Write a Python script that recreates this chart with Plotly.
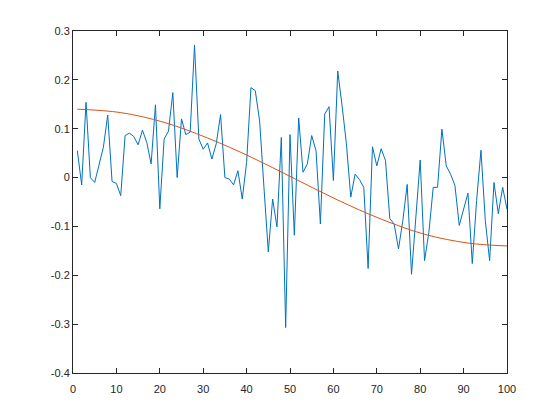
import plotly.graph_objects as go

x_noisy = list(range(1, 101))
y_noisy = [
    0.055, -0.015, 0.154, 0.0, -0.010, 0.025, 0.062, 0.128, -0.008, -0.012,
    -0.037, 0.086, 0.091, 0.084, 0.067, 0.097, 0.072, 0.028, 0.149, -0.064,
    0.079, 0.095, 0.174, 0.0, 0.120, 0.088, 0.093, 0.271, 0.079, 0.058,
    0.071, 0.038, 0.069, 0.129, 0.0, -0.003, -0.015, 0.014, -0.044, 0.031,
    0.184, 0.178, 0.116, -0.020, -0.152, -0.044, -0.101, 0.082, -0.307, 0.088,
    -0.118, 0.122, 0.011, 0.028, 0.086, 0.055, -0.095, 0.130, 0.145, -0.006,
    0.218, 0.147, 0.069, -0.040, 0.007, -0.004, -0.020, -0.186, 0.063, 0.024,
    0.059, 0.035, -0.084, -0.095, -0.146, -0.088, -0.014, -0.198, -0.074, 0.036,
    -0.170, -0.112, -0.020, -0.020, 0.099, 0.024, 0.007, -0.016, -0.098, -0.067,
    -0.032, -0.176, -0.047, 0.056, -0.088, -0.170, -0.010, -0.074, -0.020, -0.065,
]

x_smooth = [1, 11, 21, 31, 41, 51, 61, 71, 81, 91, 100]
y_smooth = [0.140, 0.133, 0.113, 0.081, 0.042, -0.002, -0.046, -0.085, -0.116, -0.134, -0.140]

x_ticks = [0, 10, 20, 30, 40, 50, 60, 70, 80, 90, 100]
y_ticks = [-0.4, -0.3, -0.2, -0.1, 0, 0.1, 0.2, 0.3]
y_ticktext = ["-0.4", "-0.3", "-0.2", "-0.1", "0", "0.1", "0.2", "0.3"]

fig = go.Figure()
fig.add_trace(go.Scatter(x=x_noisy, y=y_noisy, mode="lines",
                         line=dict(color="#0072BD", width=1)))
fig.add_trace(go.Scatter(x=x_smooth, y=y_smooth, mode="lines",
                         line=dict(color="#D95319", width=1, shape="spline")))

axis_common = dict(
    showgrid=False, zeroline=False, showline=True, linecolor="#262626",
    linewidth=1, mirror="ticks", ticks="inside", ticklen=5, tickcolor="#262626",
    tickfont=dict(family="Liberation Sans, Arial, sans-serif", size=11, color="#262626"),
)
fig.update_xaxes(range=[0, 100], tickvals=x_ticks, ticklabelposition="outside",
                 ticklabelstandoff=6, **axis_common)
fig.update_yaxes(range=[-0.4, 0.3], tickvals=y_ticks, ticktext=y_ticktext, **axis_common)

fig.update_layout(
    width=560, height=420,
    margin=dict(l=72.5, r=53, t=30.5, b=47),
    paper_bgcolor="white", plot_bgcolor="white",
    showlegend=False,
)
fig.write_html("out.html")
